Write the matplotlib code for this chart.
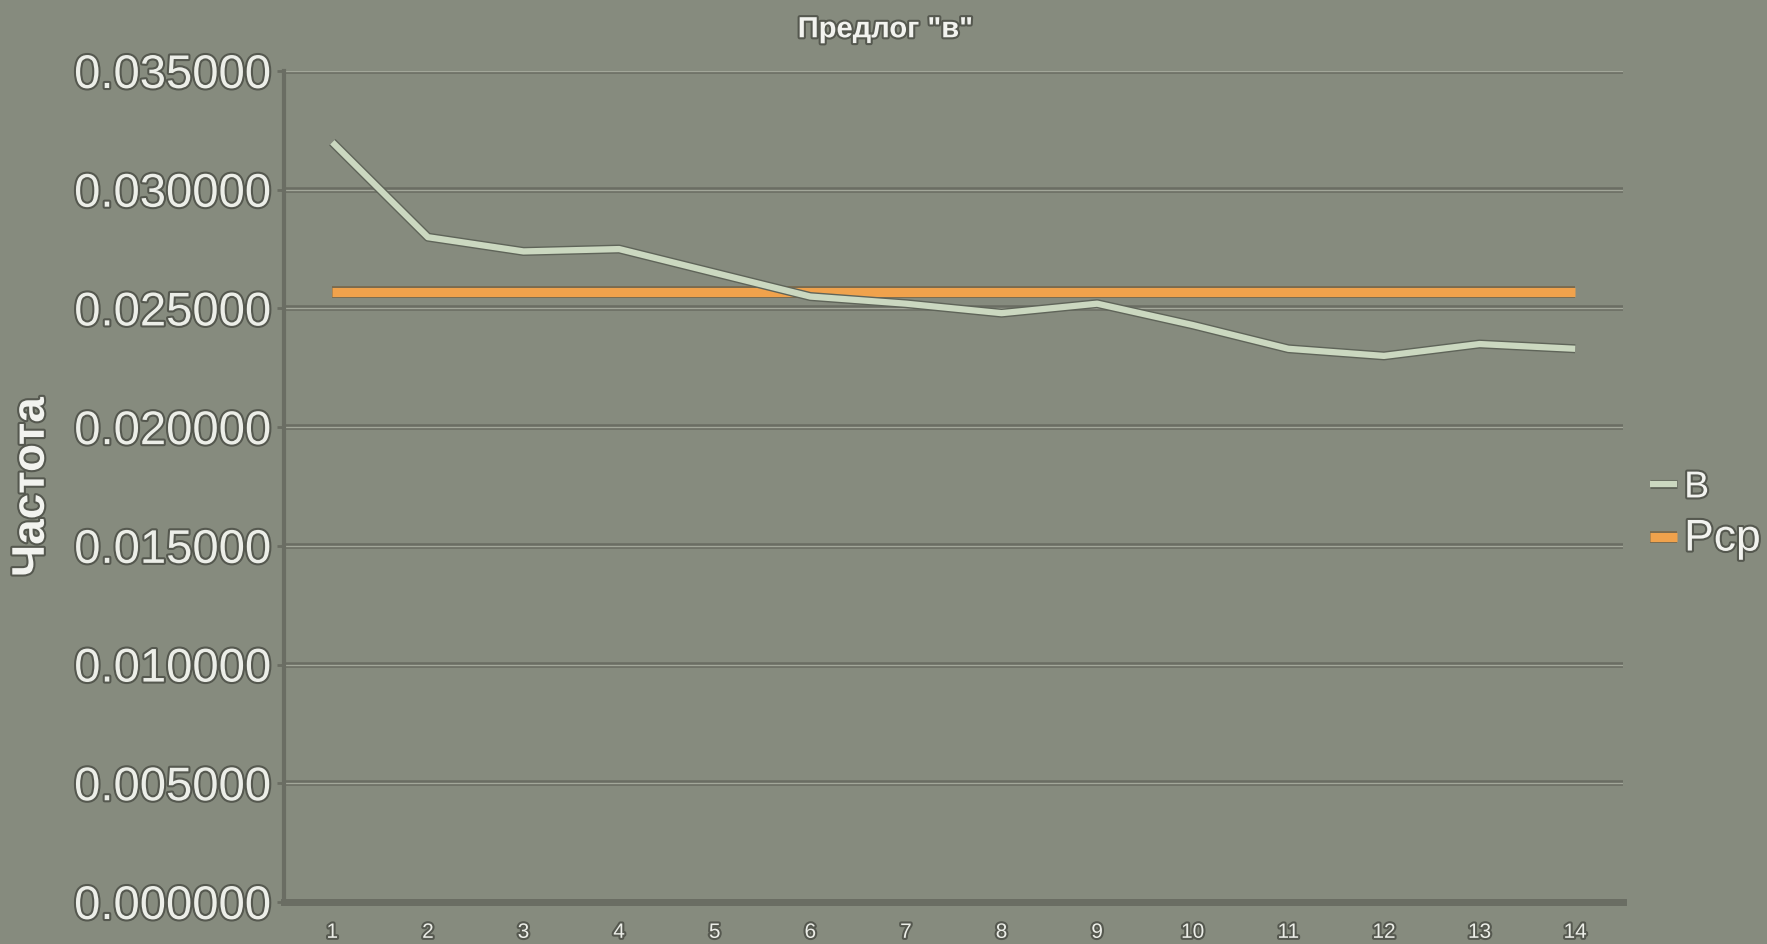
import matplotlib.pyplot as plt
import matplotlib.patheffects as pe
from matplotlib.ticker import FormatStrFormatter, MultipleLocator

plt.rcParams["font.family"] = ["Liberation Sans", "DejaVu Sans"]

# data
points = list(range(1, 15))
freq_v = [0.0320, 0.0280, 0.0274, 0.0275, 0.0265, 0.0255, 0.0252,
          0.0248, 0.0252, 0.0243, 0.0233, 0.0230, 0.0235, 0.0233]
p_mean = [0.0257] * 14
series_names = ["В", "Рср"]
title = 'Предлог "в"'
ylabel = "Частота"

bg = "#868b7e"
text_fx = [pe.withStroke(linewidth=3, foreground="#55584f")]

fig = plt.figure(figsize=(17.67, 9.44), dpi=100, facecolor=bg)
ax = fig.add_axes([0.161, 0.0445, 0.7575, 0.8803])
ax.set_facecolor(bg)

# embossed gridlines
ax.grid(axis="y", color="#a3a79a", lw=1.0, zorder=0,
        path_effects=[pe.withStroke(linewidth=4, foreground="#6a6d63")])
ax.set_axisbelow(True)

l1, = ax.plot(points, freq_v, color="#cbd8c0", lw=4.5, solid_capstyle="butt",
              path_effects=[pe.Stroke(linewidth=6.5, foreground="#5f6459"), pe.Normal()],
              zorder=3, label=series_names[0])
l2, = ax.plot(points, p_mean, color="#f0a24c", lw=6.5, solid_capstyle="butt",
              path_effects=[pe.Stroke(linewidth=8.5, foreground="#7a6a4e"), pe.Normal()],
              zorder=2, label=series_names[1])

ax.set_xlim(0.5, 14.5)
ax.set_ylim(0, 0.035)
ax.yaxis.set_major_locator(MultipleLocator(0.005))
ax.yaxis.set_major_formatter(FormatStrFormatter("%.6f"))
ax.set_xticks(points)

for s in ["top", "right"]:
    ax.spines[s].set_visible(False)
for s in ["left", "bottom"]:
    ax.spines[s].set_color("#6a6d63")
    ax.spines[s].set_linewidth(3)
ax.spines["bottom"].set_linewidth(5)

ax.tick_params(axis="y", length=5, width=2, color="#6a6d63", pad=4,
               labelsize=34, labelcolor="#eceee8")
ax.tick_params(axis="x", length=0, pad=15, labelsize=15, labelcolor="#eceee8")
for lab in ax.get_yticklabels() + ax.get_xticklabels():
    lab.set_path_effects(text_fx)

fig.text(0.501, 0.969, title, ha="center", va="center", fontsize=21,
         fontweight="bold", color="#f2f3ef", path_effects=text_fx)
fig.text(0.018, 0.484, ylabel, ha="center", va="center", rotation=90,
         fontsize=33, fontweight="bold", color="#f2f3ef", path_effects=text_fx)

leg = fig.legend(handles=[l1, l2], loc="center left", bbox_to_anchor=(0.934, 0.455),
                 frameon=False, handlelength=0.7, handletextpad=0.2,
                 labelspacing=0.35, fontsize=27, labelcolor="#f2f3ef",
                 borderpad=0, borderaxespad=0)
leg.get_texts()[1].set_fontsize(32)
for t in leg.get_texts():
    t.set_path_effects(text_fx)

fig.savefig("out.png", dpi=100, facecolor=bg)
